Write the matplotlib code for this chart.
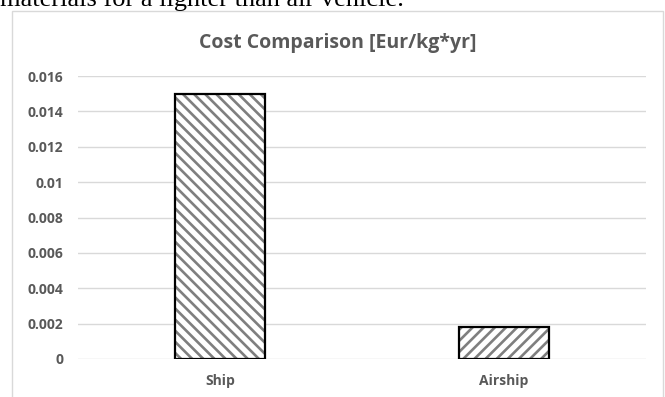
import matplotlib
matplotlib.use("Agg")
import matplotlib.pyplot as plt
from matplotlib.patches import Rectangle

categories = ["Ship", "Airship"]
cost_values = [0.015, 0.0018]
hatches = ["\\" * 3, "/" * 3]
y_ticks = [0, 0.002, 0.004, 0.006, 0.008, 0.01, 0.012, 0.014, 0.016]
y_tick_labels = ["0", "0.002", "0.004", "0.006", "0.008", "0.01", "0.012", "0.014", "0.016"]

W, H = 665, 397
fig = plt.figure(figsize=(W / 100, H / 100), dpi=100)
fig.patch.set_facecolor("white")

# surrounding document line, clipped by the top of the page
fig.text(0.0, 1 - 6 / H, "materials for a lighter than air vehicle.",
         family="Liberation Serif", fontsize=19, color="black",
         ha="left", va="baseline")

# chart area border
fig.patches.append(Rectangle((12 / W, -0.05), (663 - 12) / W, 1.05 - 11.5 / H,
                             transform=fig.transFigure, fill=False,
                             edgecolor="#d9d9d9", linewidth=1.0))

ax = fig.add_axes([78 / W, 38 / H, (646 - 78) / W, (359 - 76) / H])
ax.set_xlim(-0.5, 1.5)
ax.set_ylim(0, 0.016)

plt.rcParams["hatch.linewidth"] = 1.9
x = list(range(len(categories)))
for xi, val, h in zip(x, cost_values, hatches):
    ax.bar(xi, val, width=0.317, color="white", edgecolor="#7f7f7f",
           hatch=h, linewidth=0, zorder=3)
    ax.bar(xi, val, width=0.317, fill=False, edgecolor="black",
           linewidth=1.6, zorder=4)

ax.set_yticks(y_ticks)
ax.set_yticklabels(y_tick_labels)
ax.set_xticks(x)
ax.set_xticklabels(categories)
ax.yaxis.grid(True, color="#d9d9d9", linewidth=1.0, zorder=0)
ax.set_axisbelow(True)
for s in ax.spines.values():
    s.set_visible(False)
ax.tick_params(axis="both", length=0, colors="#595959")
ax.tick_params(axis="y", pad=10.8)
ax.tick_params(axis="x", pad=10.5)
for lbl in ax.get_yticklabels() + ax.get_xticklabels():
    lbl.set_family("Open Sans")
    lbl.set_fontweight("bold")
    lbl.set_fontsize(10)

fig.text(338 / W, 1 - 48 / H, "Cost Comparison [Eur/kg*yr]", family="Open Sans",
         fontweight="bold", fontsize=14, color="#595959",
         ha="center", va="baseline")

fig.savefig("out.png", dpi=100, facecolor="white")
